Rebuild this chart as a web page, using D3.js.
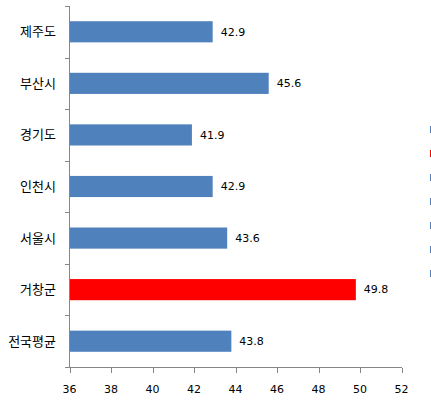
<!DOCTYPE html>
<html><head><meta charset="utf-8">
<script src="https://cdn.jsdelivr.net/npm/d3@7"></script>
<style>body{margin:0;background:#fff}svg{display:block}</style>
</head><body>
<script>
const categories = ["전국평균","거창군","서울시","인천시","경기도","부산시","제주도"];
const values = [43.8,49.8,43.6,42.9,41.9,45.6,42.9];
const colors = ["#4F81BD","#FF0000","#4F81BD","#4F81BD","#4F81BD","#4F81BD","#4F81BD"];
const xTicks = [36,38,40,42,44,46,48,50,52];

const W=431,H=402;
const svg=d3.select("body").append("svg").attr("width",W).attr("height",H);
const x=d3.scaleLinear().domain([36,52]).range([69.5,401.5]);
const y=d3.scaleBand().domain(categories.slice().reverse()).range([6,367]).paddingInner(0.59).paddingOuter(0.295);
const yb=d3.scaleBand().domain(categories.slice().reverse()).range([6,367]);

// bars
svg.selectAll("rect.bar").data(categories).enter().append("rect")
 .attr("x",x(36)).attr("y",d=>y(d)).attr("height",y.bandwidth())
 .attr("width",(d,i)=>x(values[i])-x(36)).attr("fill",(d,i)=>colors[i]);

// value labels
svg.selectAll("text.val").data(categories).enter().append("text")
 .attr("x",(d,i)=>x(values[i])+8).attr("y",d=>y(d)+y.bandwidth()/2).attr("dy","0.35em")
 .attr("font-family","DejaVu Sans").attr("font-size",11).attr("fill","#000")
 .text((d,i)=>values[i].toFixed(1));

// y axis
const g=svg.append("g").attr("stroke","#868686").attr("shape-rendering","crispEdges");
g.append("line").attr("x1",69.5).attr("x2",69.5).attr("y1",6).attr("y2",367.5);
const bounds=categories.map(c=>yb(c)).concat([367]);
g.selectAll("line.yt").data(bounds).enter().append("line")
 .attr("x1",65).attr("x2",69.5).attr("y1",d=>Math.round(d)+0.5).attr("y2",d=>Math.round(d)+0.5);
// x axis
g.append("line").attr("x1",69.5).attr("x2",401.5).attr("y1",367.5).attr("y2",367.5);
g.selectAll("line.xt").data(xTicks).enter().append("line")
 .attr("x1",d=>Math.round(x(d))+0.5).attr("x2",d=>Math.round(x(d))+0.5).attr("y1",367.5).attr("y2",372.5);

svg.selectAll("text.xl").data(xTicks).enter().append("text")
 .attr("x",d=>x(d)).attr("y",392.5).attr("text-anchor","middle")
 .attr("font-family","DejaVu Sans").attr("font-size",11).attr("fill","#000").text(d=>d);

svg.selectAll("text.cat").data(categories).enter().append("text")
 .attr("x",56).attr("y",d=>yb(d)+yb.bandwidth()/2).attr("dy","0.35em").attr("text-anchor","end")
 .attr("font-family","Noto Sans CJK KR").attr("font-size",13).attr("fill","#000").text(d=>d);

// legend (clipped at right edge)
svg.selectAll("rect.leg").data(categories).enter().append("rect")
 .attr("x",430).attr("y",(d,i)=>126+i*24).attr("width",5).attr("height",7).attr("fill",(d,i)=>colors[i]);
</script>
</body></html>
